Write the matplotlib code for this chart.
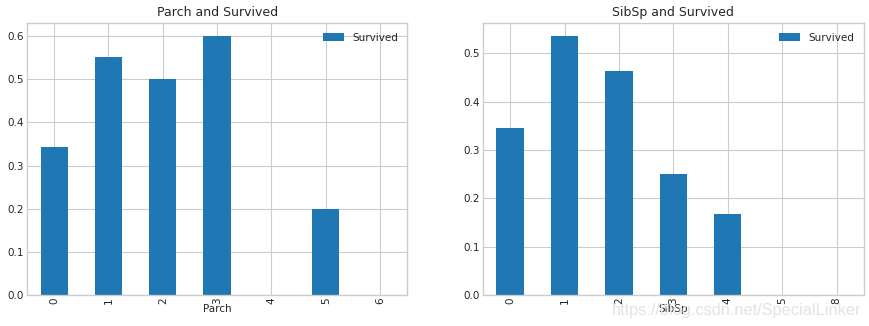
import numpy as np
import pandas as pd
import matplotlib
matplotlib.use("Agg")
import matplotlib.pyplot as plt

plt.style.use("seaborn-v0_8-whitegrid")
plt.rcParams["font.family"] = ["DejaVu Sans"]

# Survival rate grouped by number of parents/children and siblings/spouses
parch = [0, 1, 2, 3, 4, 5, 6]
parch_survived = [0.343658, 0.550847, 0.5, 0.6, 0.0, 0.2, 0.0]

sibsp = [0, 1, 2, 3, 4, 5, 8]
sibsp_survived = [0.345395, 0.535885, 0.464286, 0.25, 0.166667, 0.0, 0.0]

df_parch = pd.DataFrame({"Survived": parch_survived}, index=pd.Index(parch, name="Parch"))
df_sibsp = pd.DataFrame({"Survived": sibsp_survived}, index=pd.Index(sibsp, name="SibSp"))

fig = plt.figure(figsize=(8.7, 3.26), dpi=100)
ax1 = fig.add_axes([0.031, 0.095, 0.437, 0.834])
ax2 = fig.add_axes([0.555, 0.095, 0.438, 0.834])

for ax, df, titulo in [(ax1, df_parch, "Parch and Survived"),
                       (ax2, df_sibsp, "SibSp and Survived")]:
    df.plot.bar(ax=ax, color="#1f77b4", width=0.5)
    ax.set_title(titulo, fontsize=9, color="#262626", pad=5)
    ax.set_xlabel(df.index.name, fontsize=7.5, color="#262626", labelpad=0)
    ax.tick_params(axis="both", labelsize=7.5, colors="#262626", pad=2)
    ax.legend(loc="upper right", fontsize=7.5, frameon=False)
    for s in ax.spines.values():
        s.set_visible(True)
        s.set_color("#cccccc")
    ax.grid(True, color="#cccccc", linewidth=0.8)

# marca de agua
fig.text(0.99, 0.025, "https://blog.csdn.net/SpecialLinker", ha="right", va="bottom",
         fontsize=11.8, color="#e3e3e3", family="Liberation Sans")

fig.savefig("out.png", dpi=100)
